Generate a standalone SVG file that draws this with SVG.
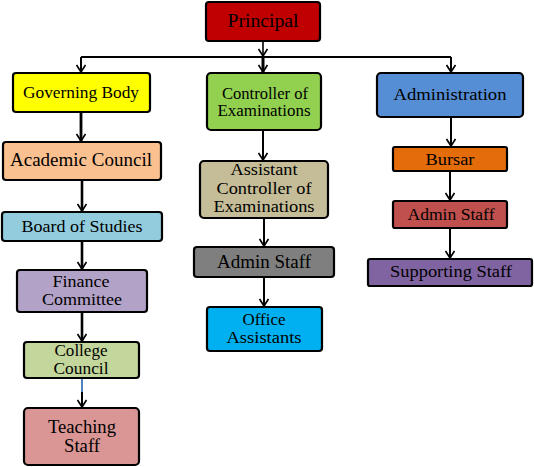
<svg xmlns="http://www.w3.org/2000/svg" width="534" height="467" viewBox="0 0 534 467">
<defs>
<marker id="ah" viewBox="0 0 10 10" refX="9" refY="5" markerWidth="10" markerHeight="10" markerUnits="userSpaceOnUse" orient="auto">
<path d="M2,0.5 L9,5 L2,9.5" fill="none" stroke="#000" stroke-width="1.7"/>
</marker>
</defs>
<style>
.b{stroke:#000;stroke-width:2.2}
.t{font-family:"Liberation Serif","Times New Roman",serif;font-size:17px;fill:#000;text-anchor:middle}
.c line{stroke:#000;stroke-width:2;fill:none}
</style>
<rect width="534" height="467" fill="#fff"/>
<g class="c" id="connectors">
<line x1="263" y1="41" x2="263" y2="56" marker-end="url(#ah)" style="stroke-width:1.6"/>
<line x1="81" y1="57" x2="451" y2="57" style="stroke-width:2.2"/>
<line x1="81" y1="57" x2="81" y2="72" marker-end="url(#ah)"/>
<line x1="263" y1="57" x2="263" y2="72" marker-end="url(#ah)" style="stroke-width:3"/>
<line x1="451" y1="57" x2="451" y2="72" marker-end="url(#ah)"/>
<line x1="81" y1="112" x2="81" y2="141" marker-end="url(#ah)" style="stroke-width:2.8"/>
<line x1="82" y1="181" x2="82" y2="211" marker-end="url(#ah)" style="stroke-width:2.6"/>
<line x1="82" y1="241" x2="82" y2="269" marker-end="url(#ah)" style="stroke-width:2.6"/>
<line x1="82" y1="312" x2="82" y2="341" marker-end="url(#ah)" style="stroke-width:2.6"/>
<line x1="82" y1="378" x2="82" y2="392" style="stroke:#4F81BD"/>
<line x1="82" y1="392" x2="82" y2="407" marker-end="url(#ah)"/>
<line x1="263" y1="130" x2="263" y2="160" marker-end="url(#ah)"/>
<line x1="264" y1="218" x2="264" y2="246" marker-end="url(#ah)"/>
<line x1="264" y1="277" x2="264" y2="306" marker-end="url(#ah)"/>
<line x1="451" y1="117" x2="451" y2="146" marker-end="url(#ah)"/>
<line x1="450" y1="171" x2="450" y2="200" marker-end="url(#ah)"/>
<line x1="450" y1="228" x2="450" y2="258" marker-end="url(#ah)"/>
</g>
<g id="principal"><rect class="b" x="206" y="2" width="114" height="39" rx="3" fill="#C00000"/><text class="t" x="263" y="27" style="font-size:19.5px" textLength="71" lengthAdjust="spacingAndGlyphs">Principal</text></g>
<g id="governing-body"><rect class="b" x="13" y="73" width="137" height="39" rx="3" fill="#FFFF00"/><text class="t" x="81" y="98" textLength="116" lengthAdjust="spacingAndGlyphs">Governing Body</text></g>
<g id="controller"><rect class="b" x="207" y="73" width="114" height="57" rx="4" fill="#92D050"/><text class="t" x="265" y="99" style="font-size:16px" textLength="86" lengthAdjust="spacingAndGlyphs">Controller of</text><text class="t" x="264" y="116" style="font-size:16px" textLength="93" lengthAdjust="spacingAndGlyphs">Examinations</text></g>
<g id="administration"><rect class="b" x="377" y="73" width="146" height="44" rx="4" fill="#558ED5"/><text class="t" x="450" y="100" textLength="113" lengthAdjust="spacingAndGlyphs">Administration</text></g>
<g id="academic-council"><rect class="b" x="3" y="142" width="158" height="38" rx="3" fill="#FAC090"/><text class="t" x="81" y="166" style="font-size:18px" textLength="142" lengthAdjust="spacingAndGlyphs">Academic Council</text></g>
<g id="board-of-studies"><rect class="b" x="2" y="212" width="160" height="29" rx="3" fill="#93CDDD"/><text class="t" x="82" y="232" textLength="121" lengthAdjust="spacingAndGlyphs">Board of Studies</text></g>
<g id="finance-committee"><rect class="b" x="17" y="270" width="130" height="42" rx="3" fill="#B3A2C7"/><text class="t" x="81" y="287" style="font-size:16px" textLength="57" lengthAdjust="spacingAndGlyphs">Finance</text><text class="t" x="82" y="305" style="font-size:16px" textLength="80" lengthAdjust="spacingAndGlyphs">Committee</text></g>
<g id="college-council"><rect class="b" x="24" y="342" width="115" height="36" rx="3" fill="#C3D69B"/><text class="t" x="81" y="356" style="font-size:16px" textLength="53" lengthAdjust="spacingAndGlyphs">College</text><text class="t" x="81" y="374" style="font-size:16px" textLength="55" lengthAdjust="spacingAndGlyphs">Council</text></g>
<g id="teaching-staff"><rect class="b" x="24" y="408" width="115" height="57" rx="4" fill="#D99694"/><text class="t" x="82" y="433" style="font-size:18px" textLength="68" lengthAdjust="spacingAndGlyphs">Teaching</text><text class="t" x="82" y="452" style="font-size:18px" textLength="36" lengthAdjust="spacingAndGlyphs">Staff</text></g>
<g id="assistant-controller"><rect class="b" x="200" y="161" width="128" height="57" rx="4" fill="#C4BD97"/><text class="t" x="264" y="175" style="font-size:16px" textLength="67" lengthAdjust="spacingAndGlyphs">Assistant</text><text class="t" x="264" y="194" style="font-size:16px" textLength="95" lengthAdjust="spacingAndGlyphs">Controller of</text><text class="t" x="264" y="212" style="font-size:16px" textLength="101" lengthAdjust="spacingAndGlyphs">Examinations</text></g>
<g id="admin-staff-exam"><rect class="b" x="194" y="247" width="140" height="30" rx="3" fill="#7F7F7F"/><text class="t" x="264" y="268" style="font-size:18px" textLength="94" lengthAdjust="spacingAndGlyphs">Admin Staff</text></g>
<g id="office-assistants"><rect class="b" x="207" y="307" width="115" height="44" rx="3" fill="#00B0F0"/><text class="t" x="264" y="325" style="font-size:16px" textLength="43" lengthAdjust="spacingAndGlyphs">Office</text><text class="t" x="264" y="343" style="font-size:16px" textLength="75" lengthAdjust="spacingAndGlyphs">Assistants</text></g>
<g id="bursar"><rect class="b" x="393" y="147" width="114" height="24" rx="2" fill="#E46C0A"/><text class="t" x="450" y="165" textLength="49" lengthAdjust="spacingAndGlyphs">Bursar</text></g>
<g id="admin-staff"><rect class="b" x="393" y="201" width="114" height="27" rx="2" fill="#C0504D"/><text class="t" x="451" y="220" textLength="87" lengthAdjust="spacingAndGlyphs">Admin Staff</text></g>
<g id="supporting-staff"><rect class="b" x="368" y="259" width="164" height="27" rx="2" fill="#8064A2"/><text class="t" x="451" y="277" textLength="122" lengthAdjust="spacingAndGlyphs">Supporting Staff</text></g>
</svg>
